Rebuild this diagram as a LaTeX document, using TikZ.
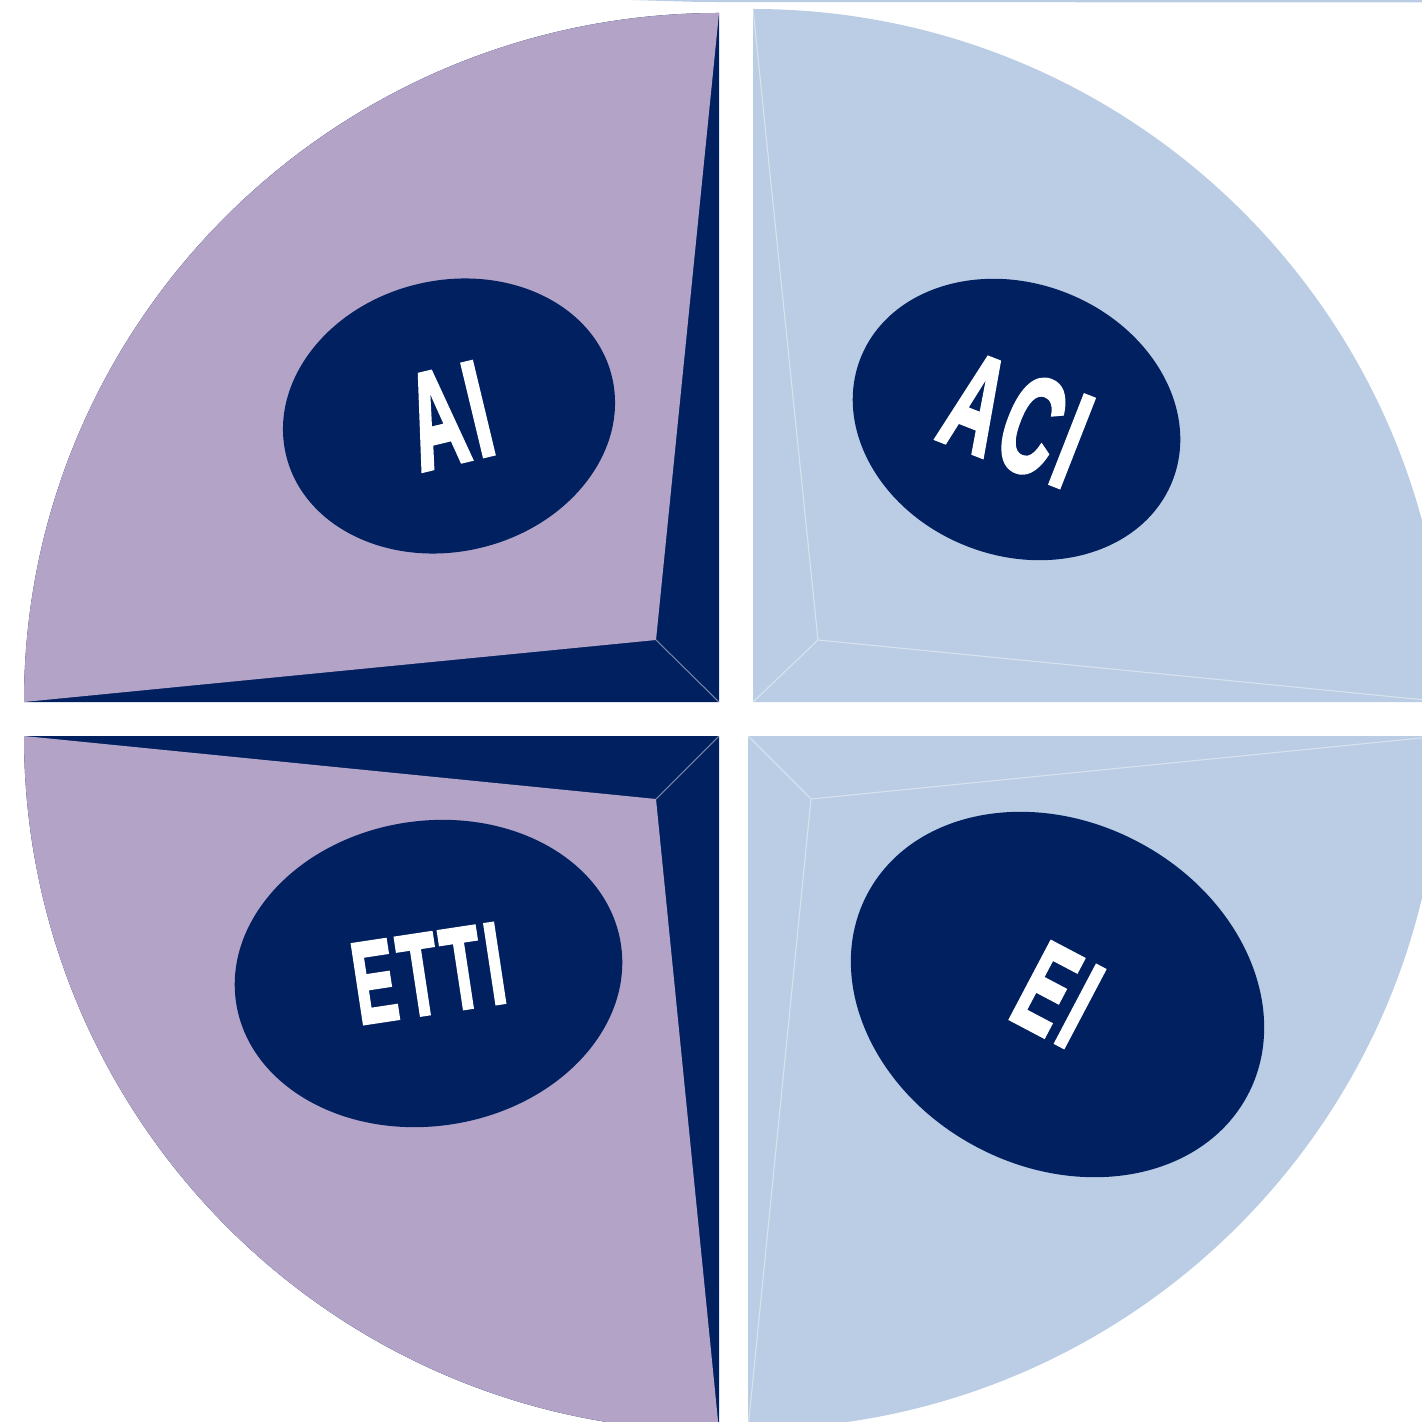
\documentclass[tikz,border=0pt]{standalone}
\usepackage{fontspec}
\usepackage{graphicx}
\usepackage{tikz}
\usetikzlibrary{shapes.geometric}
\newfontfamily\badgefont{Liberation Sans}[BoldFeatures={FakeBold=3, LetterSpace=7}]
\definecolor{navyband}{RGB}{0,32,96}
\definecolor{lilac}{RGB}{179,163,199}
\definecolor{paleblue}{RGB}{186,205,228}
\newcommand{\squeezed}[2]{{\fontsize{#1}{#1}\selectfont\scalebox{0.55}[1]{#2}}}

\begin{document}
\begin{tikzpicture}[x=0.01cm, y=-0.01cm,
    badge/.style={ellipse, fill=navyband, text=white, inner sep=0pt, font=\badgefont\bfseries},
    seam/.style={white, opacity=0.45, line width=0.3pt}]
    \path[use as bounding box, clip] (0,0) rectangle (1422,1422);

    % Corners and inner points
    \coordinate (tl) at (719,702);  \coordinate (tl-in) at (656,640);
    \coordinate (tr) at (753,702);  \coordinate (tr-in) at (818,640);
    \coordinate (bl) at (719,736);  \coordinate (bl-in) at (656,799);
    \coordinate (br) at (748,736);  \coordinate (br-in) at (811,799);

    % Thin strip along the top
    \fill[paleblue] (630,0) -- (1422,0) -- (1422,2.5) -- (700,2) -- cycle;

    % Top left quadrant
    \fill[navyband] (tl) -- (24,702) arc[start angle=180, end angle=270, x radius=695, y radius=689] -- cycle;
    \fill[lilac] (24,702) arc[start angle=180, end angle=270, x radius=695, y radius=689] -- (tl-in) -- cycle;
    \draw[seam] (tl-in) -- (tl);

    % Top right quadrant
    \fill[paleblue] (tr) -- (753,9) arc[start angle=270, end angle=360, radius=693] -- cycle;
    \draw[seam] (tr) -- (tr-in) -- (753,9) (tr-in) -- (1446,702);

    % Bottom left quadrant
    \fill[navyband] (bl) -- (24,736) arc[start angle=180, end angle=90, radius=695] -- cycle;
    \fill[lilac] (24,736) arc[start angle=180, end angle=90, radius=695] -- (bl-in) -- cycle;
    \draw[seam] (bl-in) -- (bl);

    % Bottom right quadrant
    \fill[paleblue] (br) -- (1441,736) arc[start angle=0, end angle=90, radius=693] -- cycle;
    \draw[seam] (br) -- (br-in) -- (1441,736) (br-in) -- (748,1429);

    % Badges
    \node[badge, minimum width=3.35cm, minimum height=2.71cm, rotate=13.5] (ai) at (449,416) {\squeezed{39pt}{AI}};
    \node[badge, minimum width=3.35cm, minimum height=2.72cm, rotate=-21.4] (aci) at (1016.5,419.5) {\squeezed{39pt}{ACI}};
    \node[badge, minimum width=3.89cm, minimum height=3.05cm, rotate=8.6] (etti) at (428.5,973.5) {\raisebox{-4pt}{\squeezed{33pt}{ETTI}}};
    \node[badge, minimum width=4.30cm, minimum height=3.45cm, rotate=-27.8] (ei) at (1057.5,994.5) {\raisebox{-2pt}{\squeezed{36pt}{EI}}};
\end{tikzpicture}
\end{document}
